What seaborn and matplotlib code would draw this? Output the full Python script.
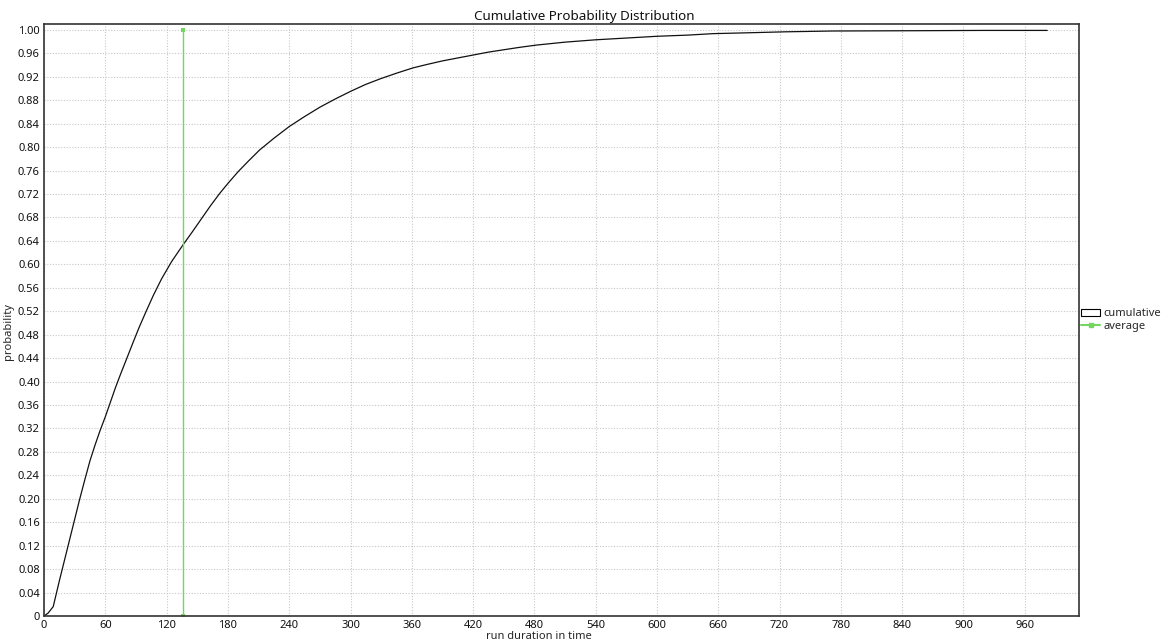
import numpy as np
import pandas as pd
import matplotlib
matplotlib.use("Agg")
import matplotlib.pyplot as plt
import seaborn as sns
from matplotlib.lines import Line2D
from matplotlib.patches import Patch

# cumulative curve
run_time = [0, 4, 9, 15, 20, 25, 30, 35, 40, 45, 50, 55, 60, 65, 70, 75, 80,
            87, 93, 100, 107, 115, 125, 136, 145, 155, 163, 172, 180, 190, 200,
            211, 225, 240, 255, 270, 285, 300, 315, 330, 345, 361, 375, 390,
            405, 420, 435, 450, 465, 482, 510, 540, 570, 600, 630, 655, 690,
            725, 772, 852, 920, 982]
cum_prob = [0, 0.005, 0.016, 0.06, 0.095, 0.13, 0.165, 0.20, 0.233, 0.265,
            0.292, 0.317, 0.34, 0.365, 0.39, 0.413, 0.435, 0.466, 0.492, 0.52,
            0.547, 0.575, 0.605, 0.633, 0.655, 0.68, 0.70, 0.721, 0.738, 0.758,
            0.776, 0.795, 0.815, 0.835, 0.852, 0.868, 0.882, 0.895, 0.907,
            0.917, 0.926, 0.935, 0.941, 0.947, 0.952, 0.957, 0.962, 0.966,
            0.970, 0.974, 0.979, 0.983, 0.986, 0.989, 0.991, 0.9935, 0.995,
            0.9966, 0.998, 0.9985, 0.999, 0.999]
avg_time = [136, 136]
avg_prob = [0, 1.0]

x_ticks = list(range(0, 961, 60))
y_ticks = [round(i * 0.04, 2) for i in range(26)]

sns.set_style("white")
plt.rcParams['font.family'] = ['Noto Sans', 'DejaVu Sans']

df = pd.DataFrame({'run duration in time': run_time, 'probability': cum_prob})
avg = pd.DataFrame({'x': avg_time, 'y': avg_prob})

fig = plt.figure(figsize=(11.68, 6.41), dpi=100)
ax = fig.add_axes([0.0377, 0.039, 0.886, 0.9236])

sns.lineplot(data=df, x='run duration in time', y='probability', ax=ax,
             color='#111111', linewidth=0.9, estimator=None)
sns.lineplot(data=avg, x='x', y='y', ax=ax, color='#74d660', linewidth=1.0,
             marker='s', markersize=3, markeredgewidth=0, estimator=None,
             sort=False)

ax.set_xlim(0, 1013)
ax.set_ylim(0, 1.01)
ax.set_xticks(x_ticks)
ax.set_yticks(y_ticks)
ax.set_yticklabels(['0'] + ['%.2f' % v for v in y_ticks[1:]])
ax.tick_params(axis='both', labelsize=8, length=2, pad=1, labelcolor='#111111')
ax.grid(True, color='#c8c8c8', linestyle=(0, (1, 1.5)), linewidth=0.8)
for s in ax.spines.values():
    s.set_color('#333333')
    s.set_linewidth(1.2)

fig.text(0.5, 0.985, 'Cumulative Probability Distribution', fontsize=9.7,
         ha='center', va='top', color='#111111')
ax.set_xlabel('run duration in time', fontsize=8)
ax.set_ylabel('probability', fontsize=8)
ax.xaxis.set_label_coords(0.478, -0.026)
ax.yaxis.label.set_va('bottom')
ax.yaxis.set_label_coords(-0.029, 0.481)

handles = [Patch(facecolor='white', edgecolor='black', linewidth=0.8),
           Line2D([0], [0], color='#74d660', marker='s', markersize=3)]
ax.legend(handles, ['cumulative', 'average'], loc='center left',
          bbox_to_anchor=(1.0, 0.5), frameon=False, fontsize=8,
          handlelength=1.7, handletextpad=0.3, borderaxespad=0.1,
          labelspacing=0.1, borderpad=0.1)

fig.savefig('out.png', dpi=100)
